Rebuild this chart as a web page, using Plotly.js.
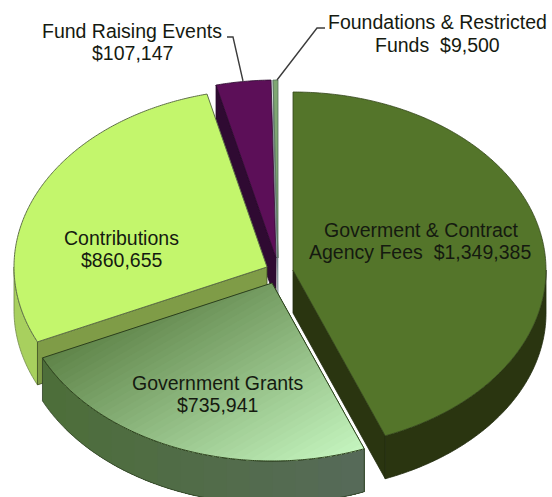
<!DOCTYPE html>
<html>
<head>
<meta charset="utf-8">
<script src="https://cdn.plot.ly/plotly-3.0.1.min.js"></script>
<style>html,body{margin:0;padding:0;background:#fff}#chart{width:552px;height:497px}</style>
</head>
<body>
<div id="chart"></div>
<script>
// Revenue sources, in dollars, clockwise from twelve o'clock.
const categories = ["Goverment & Contract Agency Fees", "Government Grants", "Contributions", "Fund Raising Events", "Foundations & Restricted Funds"];
const amounts = [1349385, 735941, 860655, 107147, 9500];
const topColors = ["#54752a", "#7fa668", "#c3f66c", "#5c0f58", "#7fa672"];
const cutColors = ["#2a3510", "#4f6e3e", "#7f9c47", "#2f0a32", "#5a6a70"];
const wallColors = ["#2a3510", "#536f48", "#a8d05e", "#2f0a32", "#5a6a70"];
const edgeColors = ["#33451a", "#2c3f1c", "#5f7048", "#2a0a2c", "#55705a"];

// Projection of the tilted, exploded pie onto the plot's pixel-sized axes.
const radiusX = 253, radiusY = 178, depth = 43;
const originX = [293, 272, 267, 276, 278];
const originY = [270, 283, 267, 258, 258];

const total = amounts.reduce((a, b) => a + b, 0);
let running = 0;
const wedges = amounts.map((v, i) => {
  const start = running / total * 360;
  running += v;
  return {i, start, end: running / total * 360, ox: originX[i], oy: originY[i]};
});

const rad = d => d * Math.PI / 180;
const rim = (w, d) => [w.ox + radiusX * Math.sin(rad(d)), w.oy - radiusY * Math.cos(rad(d))];
function arc(w, from, to) {
  const pts = [], n = Math.max(2, Math.ceil(Math.abs(to - from) * 2));
  for (let k = 0; k <= n; k++) pts.push(rim(w, from + (to - from) * k / n));
  return pts;
}
const down = p => [p[0], p[1] + depth];
const topFace = w => [[w.ox, w.oy], ...arc(w, w.start, w.end), [w.ox, w.oy]];

const traces = [];
function poly(pts, fill, line, width) {
  traces.push({
    type: "scatter", mode: "lines", hoverinfo: "skip", showlegend: false,
    x: pts.map(p => p[0]), y: pts.map(p => p[1]),
    fill: fill ? "toself" : "none", fillcolor: fill || "rgba(0,0,0,0)",
    line: {color: line || "rgba(0,0,0,0)", width: line ? (width || 1) : 0, simplify: false}
  });
}
// Outline of the outer rim of a wedge between two angles, extruded downward.
function wallOutline(w, from, to) {
  const a = arc(w, from, to);
  return [...a, ...a.slice().reverse().map(down), a[0]];
}
function outerWall(w, from, to, color, edge) {
  poly(wallOutline(w, from, to), color, edge, 0.8);
}
// Flat wall below one straight cut of a wedge.
function cutWall(w, d, color, edge) {
  const o = [w.ox, w.oy], r = rim(w, d);
  poly([o, r, down(r), down(o), o], color, edge, 0.8);
}
// Keeps the part of a polygon where f(p) >= 0.
function clip(pts, f) {
  const out = [];
  for (let i = 0; i < pts.length; i++) {
    const a = pts[i], b = pts[(i + 1) % pts.length], fa = f(a), fb = f(b);
    if (fa >= 0) out.push(a);
    if ((fa >= 0) !== (fb >= 0)) {
      const s = fa / (fa - fb);
      out.push([a[0] + (b[0] - a[0]) * s, a[1] + (b[1] - a[1]) * s]);
    }
  }
  return out;
}
const hexToRgb = h => [1, 3, 5].map(k => parseInt(h.substr(k, 2), 16));
function mix(c0, c1, s) {
  const a = hexToRgb(c0), b = hexToRgb(c1);
  return "rgb(" + a.map((v, k) => Math.round(v + (b[k] - v) * s)).join(",") + ")";
}
// Directional shading built from overlapping clipped layers.
function shadedFace(pts, dir, c0, c1, steps) {
  const proj = p => p[0] * dir[0] + p[1] * dir[1];
  const vals = pts.map(proj), lo = Math.min(...vals), hi = Math.max(...vals);
  for (let k = 0; k < steps; k++) {
    const level = lo + (hi - lo) * k / steps;
    const part = clip(pts, p => proj(p) - level);
    if (part.length > 2) poly([...part, part[0]], mix(c0, c1, k / (steps - 1)));
  }
}

const [fees, grants, contrib, events, found] = wedges;

// Back slivers first.
cutWall(found, found.start, cutColors[4], "#8a9aa0");
poly(topFace(found), topColors[4], edgeColors[4], 0.8);
cutWall(events, events.start, cutColors[3], edgeColors[3]);
poly(topFace(events), topColors[3], edgeColors[3], 0.8);

// Contributions.
outerWall(contrib, contrib.start, 270, wallColors[2], "#6f8648");
cutWall(contrib, contrib.start, cutColors[2], "#3f5020");
poly(topFace(contrib), topColors[2], edgeColors[2], 1);

// Government grants with their shading.
const grantsWall = wallOutline(grants, grants.start, grants.end);
shadedFace(grantsWall.slice(0, -1), [1, 0], "#4d6e3a", "#566a58", 14);
poly(grantsWall, null, "#2e4024", 0.8);
shadedFace(topFace(grants).slice(0, -1), [0.5, 0.866], "#5f8449", "#c4f4be", 40);
poly(topFace(grants), null, edgeColors[1], 1);

// Agency fees, pulled to the right and drawn last.
cutWall(fees, fees.end, cutColors[0], "#1f2a0c");
outerWall(fees, 90, fees.end, wallColors[0], "#1f2a0c");
poly(topFace(fees), topColors[0], edgeColors[0], 0.8);

// Leader lines to the two outside labels.
const leaderColor = "#3c3c3c";
const leaderFund = [[227, 37], [233, 37], [243, 81]];
const leaderFoundations = [[325, 28], [317, 28], [277, 80]];
poly(leaderFund, null, leaderColor, 1.4);
poly(leaderFoundations, null, leaderColor, 1.4);

// Slice labels, one entry per text line so the leading stays tight.
const labelLines = [
  "Goverment & Contract", "Agency Fees\u00A0\u00A0$1,349,385",
  "Government Grants", "$735,941",
  "Contributions", "$860,655",
  "Fund Raising Events", "$107,147",
  "Foundations & Restricted", "Funds\u00A0\u00A0$9,500"
];
const labelX = [421, 420, 217, 217, 121, 121, 132, 132, 437, 437];
const labelY = [230, 252, 383, 405, 238, 260, 31, 53, 22, 45];

const annotations = labelLines.map((line, i) => ({
  x: labelX[i], y: labelY[i], xref: "x", yref: "y", showarrow: false,
  xanchor: "center", yanchor: "middle", align: "center",
  text: line,
  font: {family: "Liberation Sans, Arial, sans-serif", size: 19.5, color: "#151a10"}
}));

Plotly.newPlot("chart", traces, {
  width: 552, height: 497,
  margin: {l: 0, r: 0, t: 0, b: 0},
  paper_bgcolor: "#ffffff", plot_bgcolor: "#ffffff",
  showlegend: false, hovermode: false,
  xaxis: {range: [0, 552], visible: false, fixedrange: true},
  yaxis: {range: [497, 0], visible: false, fixedrange: true},
  annotations
}, {displayModeBar: false, staticPlot: true});
</script>
</body>
</html>
